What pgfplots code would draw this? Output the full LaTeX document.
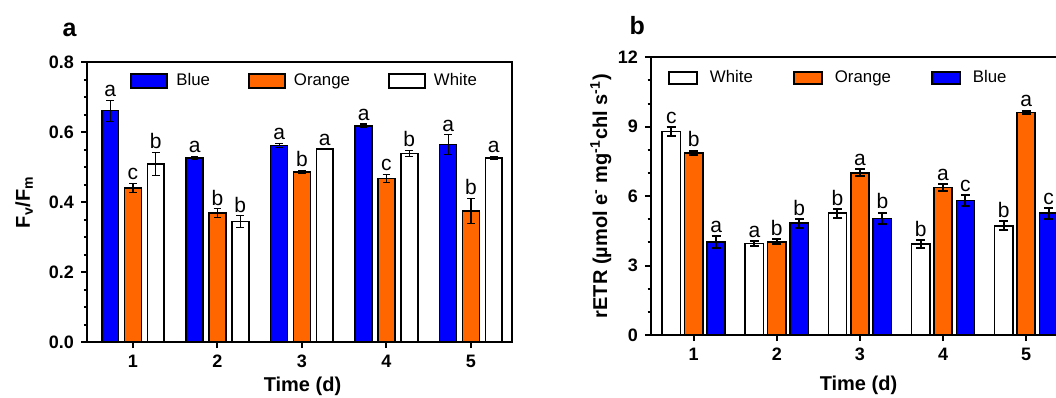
\documentclass[border=0pt]{standalone}
\usepackage{pgfplots}
\pgfplotsset{compat=1.18}
\usepackage{pgfplotstable}
\usepackage{fontspec}
\setmainfont{Liberation Sans}
\definecolor{myblue}{RGB}{0,0,255}
\definecolor{myorange}{RGB}{255,102,0}

% Panel a : Fv/Fm
\pgfplotstableread{
x y err lab
1 0.661 0.030 a
2 0.526 0.005 a
3 0.561 0.006 a
4 0.618 0.005 a
5 0.564 0.028 a
}\LBlue
\pgfplotstableread{
x y err lab
1 0.440 0.013 c
2 0.368 0.013 b
3 0.486 0.005 b
4 0.467 0.012 c
5 0.375 0.036 b
}\LOrange
\pgfplotstableread{
x y err lab
1 0.509 0.033 b
2 0.344 0.017 b
3 0.551 0.000 a
4 0.539 0.009 b
5 0.526 0.004 a
}\LWhite

% Panel b : rETR
\pgfplotstableread{
x y err lab
1 8.79 0.18 c
2 3.96 0.10 a
3 5.26 0.20 b
4 3.92 0.18 b
5 4.72 0.20 b
}\RWhite
\pgfplotstableread{
x y err lab
1 7.87 0.10 b
2 4.03 0.10 b
3 7.01 0.15 a
4 6.37 0.14 a
5 9.62 0.08 a
}\ROrange
\pgfplotstableread{
x y err lab
1 4.03 0.26 a
2 4.83 0.19 b
3 5.04 0.25 b
4 5.82 0.24 c
5 5.26 0.24 c
}\RBlue

\pgfplotsset{
  common/.style={
    scale only axis,
    clip=false,
    axis line style={line width=1pt},
    tick style={line width=1pt, black},
    major tick length=3pt,
    minor tick length=1.6pt,
    tick align=outside,
    xtick pos=bottom,
    ytick pos=left,
    xtick={1,2,3,4,5},
    /pgf/number format/assume math mode=true,
    ticklabel style={font=\bfseries\fontsize{9}{10}\selectfont},
  },
  lbl/.style={only marks, mark=none, forget plot, nodes near coords,
    point meta=explicit symbolic,
    nodes near coords style={anchor=south, inner sep=1.5pt, font=\fontsize{10.5}{12}\selectfont, black}},
  barA/.style={ybar, bar width=0.2, bar shift=0, draw=black, line width=0.8pt,
    error bars/.cd, y dir=both, y explicit,
    error bar style={line width=0.6pt, black},
    error mark options={rotate=90, mark size=1.9pt, line width=0.6pt, black}},
  barB/.style={ybar, bar width=0.22, bar shift=0, draw=black, line width=0.8pt,
    error bars/.cd, y dir=both, y explicit,
    error bar style={line width=1pt, black},
    error mark options={rotate=90, mark size=2.3pt, line width=1pt, black}},
}

\begin{document}
\begin{tikzpicture}
\path[use as bounding box] (0,0) rectangle (528pt,198.5pt);
\clip (0,0) rectangle (528pt,198.5pt);

% ---------------- Panel a
\begin{axis}[common,
  at={(43.5pt,27.5pt)}, anchor=south west,
  width=212.5pt, height=140pt,
  xmin=0.456, xmax=5.486, ymin=0, ymax=0.8,
  ytick={0,0.2,0.4,0.6,0.8},
  minor y tick num=3,
  yticklabel style={/pgf/number format/.cd, fixed, fixed zerofill, precision=1},
  xlabel={Time (d)},
  ylabel={F\textsubscript{v}/F\textsubscript{m}},
  every axis x label/.style={at={(axis description cs:0.507,-0.157)}, anchor=center, font=\bfseries\fontsize{10}{12}\selectfont},
  every axis y label/.style={at={(axis description cs:-0.148,0.5)}, rotate=90, anchor=center, font=\bfseries\fontsize{10}{12}\selectfont},
  legend image code/.code={\draw[#1, line width=1pt] (0pt,-3.5pt) rectangle (18pt,3.5pt);},
  legend style={draw=none, fill=none, at={(axis description cs:0.101,0.932)}, anchor=west,
    legend columns=3, inner sep=0pt,
    /tikz/every odd column/.append style={column sep=2pt},
    /tikz/every even column/.append style={column sep=17pt},
    font=\fontsize{8.4}{10}\selectfont, cells={anchor=west}},
]
\addplot[fill=myblue, barA] table[x expr=\thisrow{x}-0.27, y=y, y error=err]{\LBlue};
\addlegendentry{Blue}
\addplot[fill=myorange, barA] table[x expr=\thisrow{x}, y=y, y error=err]{\LOrange};
\addlegendentry{Orange}
\addplot[fill=white, barA] table[x expr=\thisrow{x}+0.27, y=y, y error=err]{\LWhite};
\addlegendentry{White}
\addplot[lbl] table[x expr=\thisrow{x}-0.27, y expr=\thisrow{y}+\thisrow{err}, meta=lab]{\LBlue};
\addplot[lbl] table[x expr=\thisrow{x}, y expr=\thisrow{y}+\thisrow{err}, meta=lab]{\LOrange};
\addplot[lbl] table[x expr=\thisrow{x}+0.27, y expr=\thisrow{y}+\thisrow{err}, meta=lab]{\LWhite};
\node[font=\bfseries\fontsize{12.5}{14}\selectfont, anchor=center] at (axis description cs:-0.041,1.114) {a};
\end{axis}

% ---------------- Panel b
\begin{axis}[common,
  at={(325.45pt,31pt)}, anchor=south west,
  width=208.4pt, height=138.85pt,
  xmin=0.485, xmax=5.5, ymin=0, ymax=12,
  ytick={0,3,6,9,12},
  minor y tick num=2,
  xlabel={Time (d)},
  ylabel={rETR (\textmu mol e\textsuperscript{-} mg\textsuperscript{-1}chl s\textsuperscript{-1})},
  every axis x label/.style={at={(axis description cs:0.498,-0.18)}, anchor=center, font=\bfseries\fontsize{10}{12}\selectfont},
  every axis y label/.style={at={(axis description cs:-0.12,0.5)}, rotate=90, anchor=center, font=\bfseries\fontsize{10}{12}\selectfont},
  legend image code/.code={\draw[#1, line width=1pt] (0pt,-3pt) rectangle (14pt,3pt);},
  legend style={draw=none, fill=none, at={(axis description cs:0.040,0.925)}, anchor=west,
    legend columns=3, inner sep=0pt,
    /tikz/every odd column/.append style={column sep=4pt},
    /tikz/every even column/.append style={column sep=18pt},
    font=\fontsize{8.4}{10}\selectfont, cells={anchor=west}},
]
\addplot[fill=white, barB] table[x expr=\thisrow{x}-0.27, y=y, y error=err]{\RWhite};
\addlegendentry{White}
\addplot[fill=myorange, barB] table[x expr=\thisrow{x}, y=y, y error=err]{\ROrange};
\addlegendentry{Orange}
\addplot[fill=myblue, barB] table[x expr=\thisrow{x}+0.27, y=y, y error=err]{\RBlue};
\addlegendentry{Blue}
\addplot[lbl] table[x expr=\thisrow{x}-0.27, y expr=\thisrow{y}+\thisrow{err}, meta=lab]{\RWhite};
\addplot[lbl] table[x expr=\thisrow{x}, y expr=\thisrow{y}+\thisrow{err}, meta=lab]{\ROrange};
\addplot[lbl] table[x expr=\thisrow{x}+0.27, y expr=\thisrow{y}+\thisrow{err}, meta=lab]{\RBlue};
\node[font=\bfseries\fontsize{12.5}{14}\selectfont, anchor=center] at (axis description cs:-0.033,1.116) {b};
\end{axis}
\end{tikzpicture}
\end{document}
